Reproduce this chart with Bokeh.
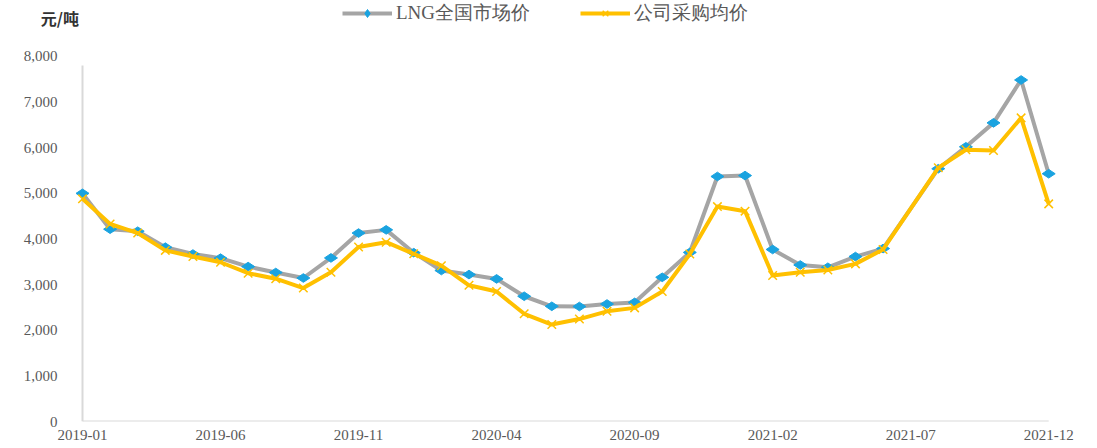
import math
from bokeh.plotting import figure
from bokeh.models import (ColumnDataSource, Range1d, FixedTicker, NumeralTickFormatter,
                          Legend, LegendItem, Label)
from bokeh.embed import file_html
from bokeh.resources import INLINE

# ---------------- data ----------------
months = [
    "2019-01", "2019-02", "2019-03", "2019-04", "2019-05", "2019-06",
    "2019-07", "2019-08", "2019-09", "2019-10", "2019-11", "2019-12",
    "2020-01", "2020-02", "2020-03", "2020-04", "2020-05", "2020-06",
    "2020-07", "2020-08", "2020-09", "2020-10", "2020-11", "2020-12",
    "2021-01", "2021-02", "2021-03", "2021-04", "2021-05", "2021-06",
    "2021-08", "2021-09", "2021-10", "2021-11", "2021-12",
]
lng_market = [
    5000, 4215, 4170, 3820, 3670, 3580,
    3395, 3265, 3145, 3585, 4130, 4200,
    3700, 3310, 3220, 3125, 2745, 2525,
    2520, 2575, 2610, 3160, 3705, 5370,
    5390, 3770, 3430, 3380, 3615, 3790,
    5540, 6020, 6545, 7485, 5430,
]
company_avg = [
    4880, 4330, 4130, 3750, 3615, 3490,
    3250, 3130, 2925, 3270, 3825, 3930,
    3675, 3415, 2985, 2850, 2360, 2125,
    2245, 2415, 2490, 2850, 3670, 4710,
    4610, 3200, 3270, 3320, 3455, 3770,
    5560, 5955, 5940, 6655, 4770,
]
series_names = ["LNG全国市场价", "公司采购均价"]
x_tick_labels = ["2019-01", "2019-06", "2019-11", "2020-04",
                 "2020-09", "2021-02", "2021-07", "2021-12"]
y_ticks = [0, 1000, 2000, 3000, 4000, 5000, 6000, 7000, 8000]
y_unit = "元/吨"


def month_index(s):
    yy, mm = s.split("-")
    return (int(yy) - 2019) * 12 + int(mm) - 1


xs = [month_index(m) for m in months]
tick_pos = [month_index(t) for t in x_tick_labels]

src = ColumnDataSource(dict(x=xs, lng=lng_market, comp=company_avg, month=months))

GRAY = "#A5A5A5"
BLUE = "#1AA3E0"
YELLOW = "#FFC000"
AXIS = "#D9D9D9"
TEXT = "#595959"

# frame: left edge leaves room for the unit label; top headroom holds the legend
p = figure(width=1095, height=446, output_backend="svg", toolbar_location=None,
           x_range=Range1d(xs[0] - 1.594, xs[-1] + 0.5),
           y_range=Range1d(y_ticks[0], 9227),
           min_border_left=38, min_border_right=33,
           min_border_top=0, min_border_bottom=25)
p.title = None
p.outline_line_color = None
p.xgrid.visible = False
p.ygrid.visible = False
p.background_fill_color = "white"
p.border_fill_color = "white"

# axes styling
p.xaxis.ticker = FixedTicker(ticks=tick_pos)
p.xaxis.major_label_overrides = {t: lab for t, lab in zip(tick_pos, x_tick_labels)}
p.xaxis.axis_line_color = None
p.xaxis.major_tick_line_color = None
p.xaxis.minor_tick_line_color = None
p.xaxis.major_tick_out = 0
p.xaxis.major_tick_in = 0
p.xaxis.major_label_standoff = 8
p.xaxis.major_label_text_font = "Liberation Serif"
p.xaxis.major_label_text_font_size = "15px"
p.xaxis.major_label_text_color = TEXT

p.yaxis.ticker = FixedTicker(ticks=y_ticks)
p.yaxis.formatter = NumeralTickFormatter(format="0,0")
p.yaxis.axis_line_color = None
p.yaxis.major_tick_line_color = None
p.yaxis.minor_tick_line_color = None
p.yaxis.major_tick_out = 0
p.yaxis.major_tick_in = 0
p.yaxis.major_label_standoff = -19
p.yaxis.major_label_text_font = "Liberation Serif"
p.yaxis.major_label_text_font_size = "15px"
p.yaxis.major_label_text_color = TEXT

# axis lines spanning the data range
p.segment(x0=[xs[0]], y0=[y_ticks[0]], x1=[xs[-1]], y1=[y_ticks[0]],
          line_color=AXIS, line_width=2)
p.segment(x0=[xs[0]], y0=[y_ticks[0]], x1=[xs[0]], y1=[y_ticks[-1] * 0.975],
          line_color=AXIS, line_width=2)

# series
l1 = p.line("x", "lng", source=src, line_color=GRAY, line_width=4, line_join="round")
m1 = p.scatter("x", "lng", source=src, marker="diamond", angle=math.pi / 2, size=13,
               fill_color=BLUE, line_color=BLUE, line_width=1)
l2 = p.line("x", "comp", source=src, line_color=YELLOW, line_width=4, line_join="round")
m2 = p.scatter("x", "comp", source=src, marker="x", size=12,
               line_color=YELLOW, line_width=1.5)

legend = Legend(items=[LegendItem(label=series_names[0], renderers=[l1, m1]),
                       LegendItem(label=series_names[1], renderers=[l2, m2])],
                location=(304, 395), orientation="horizontal",
                border_line_color=None, background_fill_alpha=0,
                padding=0, margin=0, spacing=50,
                glyph_width=50, glyph_height=20, label_height=20,
                label_standoff=4,
                label_text_font="Liberation Serif", label_text_font_size="19px",
                label_text_color=TEXT)
p.add_layout(legend)

p.add_layout(Label(x=xs[0] - 1.51, y=8833, text=y_unit,
                   text_font="Noto Sans CJK SC", text_font_style="bold",
                   text_font_size="16px", text_baseline="middle", text_align="left",
                   text_color="#333333"))

open("out.html", "w").write(file_html(p, INLINE))
